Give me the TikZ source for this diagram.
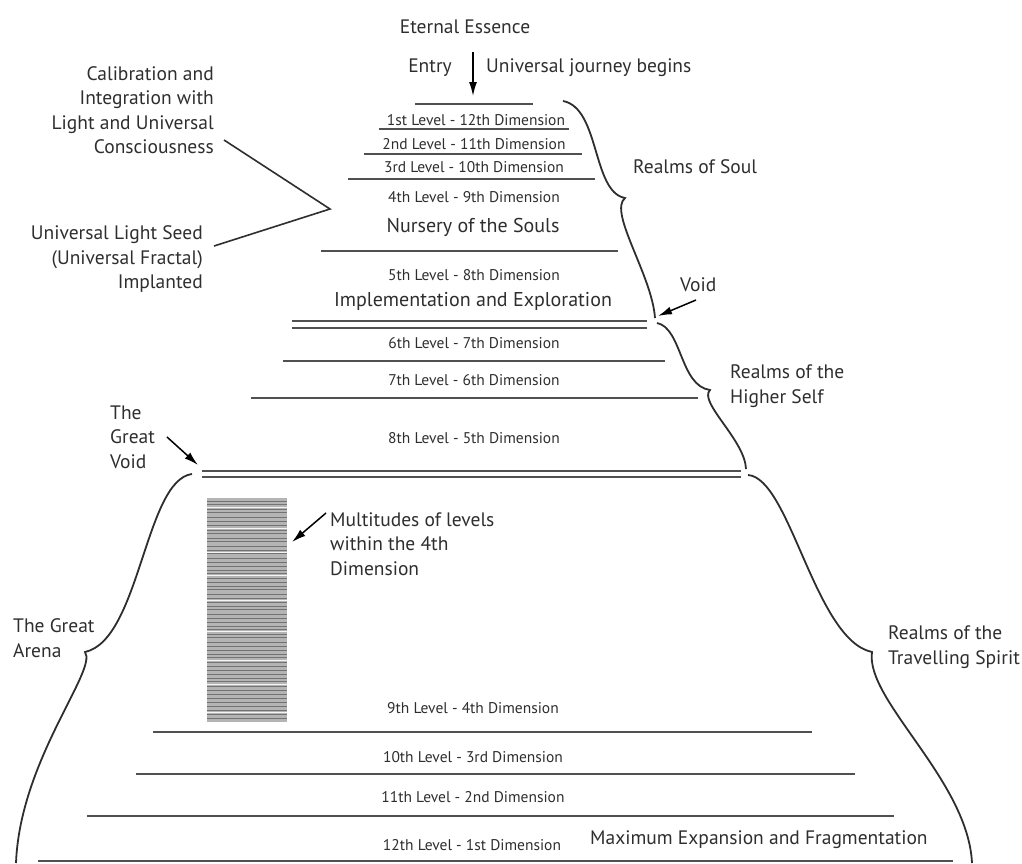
\documentclass[tikz,border=0pt]{standalone}
\usepackage{fontspec}
\setmainfont{PT Sans}
\usepackage{tikz}
\usetikzlibrary{arrows.meta,positioning}
\definecolor{ink}{HTML}{2E2E2E}
\definecolor{rule}{HTML}{505050}
\definecolor{stripe}{HTML}{B4B4B4}

\begin{document}
\begin{tikzpicture}[
    x=1pt, y=-1pt,
    lbl/.style={inner sep=0pt, text=ink, font=\fontsize{19.5}{24.5}\selectfont},
    lvl/.style={inner sep=0pt, text=ink, font=\fontsize{15.5}{18}\selectfont},
    big/.style={inner sep=0pt, text=ink, font=\fontsize{20}{24}\selectfont},
    layer/.style={draw=rule, line width=2.8pt},
    brace/.style={draw=ink, line width=1.8pt},
    arrow/.style={-{Latex[length=14pt,width=8pt]}, line width=1.5pt, color=black},
    lead/.style={draw=ink, line width=1.6pt}
]
\useasboundingbox (0,0) rectangle (1022,863);

% the levels
\foreach \y/\a/\b in {104/415/533, 129/379/569, 154/364/582, 179/348/595,
    251/321/618, 361/283/665, 398/251/698,
    732/153/812, 774/136/855, 816/87/894, 861/38/953}
  \draw[layer] (\a,\y) -- (\b,\y);
% voids
\draw[layer] (292,321) -- (647,321);
\draw[layer] (292,328) -- (647,328);
\draw[layer] (202,471) -- (741,471);
\draw[layer] (202,477) -- (741,477);

% multitudes of levels
\fill[stripe] (207,498) rectangle (287,722);
\foreach \y in {501,504,509,512,517,521,525,530,533,538,541,546,550,553,558,
    562,566,570,573,578,582,586,589,594,598,602,606,609,614,618,622,626,629,
    634,637,642,646,650,654,657,662,666,670,674,678,681,686,690,694,698,702,
    706,710,714,718}
  \draw[rule!80, line width=0.9pt] (207,\y) -- (287,\y);
\foreach \y in {507,528,552,575,600,631,660,684,712}
  \draw[white!85!stripe, line width=0.8pt] (207,\y) -- (287,\y);

% level names
\node[lbl] (eternal) at (465,27) {Eternal Essence};
\node[lbl] (entry) at (430,68) {Entry};
\node[lbl, anchor=west] (journey) at (486,68) {Universal journey begins};
\node[lvl] (l1) at (476,120) {1st Level - 12th Dimension};
\node[lvl] (l2) at (474,144) {2nd Level - 11th Dimension};
\node[lvl] (l3) at (474,167) {3rd Level - 10th Dimension};
\node[lvl] (l4) at (474,197) {4th Level - 9th Dimension};
\node[big] (nursery) at (473,227) {Nursery of the Souls};
\node[lvl] (l5) at (474,275) {5th Level - 8th Dimension};
\node[big] (impl) at (473,301) {Implementation and Exploration};
\node[lvl] (l6) at (474,343) {6th Level - 7th Dimension};
\node[lvl] (l7) at (474,380) {7th Level - 6th Dimension};
\node[lvl] (l8) at (474,438) {8th Level - 5th Dimension};
\node[lvl] (l9) at (473,708) {9th Level - 4th Dimension};
\node[lvl] (l10) at (473,757) {10th Level - 3rd Dimension};
\node[lvl] (l11) at (473,797) {11th Level - 2nd Dimension};
\node[lvl] (l12) at (472,845) {12th Level - 1st Dimension};
\node[lbl, anchor=west] (maxexp) at (590,840) {Maximum Expansion and Fragmentation};

% side labels
\node[lbl, anchor=west] (soul) at (633,167) {Realms of Soul};
\node[lbl, anchor=west] (void) at (680,285) {Void};
\node[lbl, anchor=west, align=left] (higher) at (730,386) {Realms of the\\Higher Self};
\node[lbl, anchor=west, align=left] (travel) at (888,647) {Realms of the\\Travelling Spirit};
\node[lbl, anchor=west, align=left] (arena) at (13,638) {The Great\\Arena};
\node[lbl, anchor=west, align=left] (gvoid) at (110,437) {The\\Great\\Void};
\node[lbl, anchor=west, align=left] (multi) at (330,544) {Multitudes of levels\\within the 4th\\Dimension};
\node[lbl, anchor=east, align=right] (calib) at (214,110) {Calibration and\\Integration with\\Light and Universal\\Consciousness};
\node[lbl, anchor=east, align=right] (seed) at (203,259) {Universal Light Seed\\(Universal Fractal)\\Implanted};

% arrows
\coordinate (entrytop) at (473,52);
\coordinate (entrytip) at (473,96);
\coordinate (voidtail) at (696,300);
\coordinate (voidtip) at (658,316);
\coordinate (gvoidtail) at (167,437);
\coordinate (gvoidtip) at (198,465);
\coordinate (multitail) at (326,513);
\coordinate (multitip) at (292,542);
\draw[arrow] (entrytop) -- (entrytip);
\draw[arrow] (voidtail) -- (voidtip);
\draw[arrow] (gvoidtail) -- (gvoidtip);
\draw[arrow] (multitail) -- (multitip);

% leader lines
\coordinate (calibend) at (224,140);
\coordinate (apex) at (330,209);
\coordinate (seedend) at (214,246);
\draw[lead] (calibend) -- (apex) -- (seedend);

% braces
\draw[brace] (563,101) .. controls (600,108) and (592,192) .. (625,198)
  .. controls (608,212) and (652,275) .. (655,318);
\draw[brace] (657,323) .. controls (682,328) and (680,386) .. (710,390)
  .. controls (698,402) and (745,440) .. (746,469);
\draw[brace] (748,475) .. controls (790,478) and (815,640) .. (872,652)
  .. controls (865,700) and (968,780) .. (972,863);
\draw[brace] (192,474) .. controls (145,480) and (140,640) .. (85,652)
  .. controls (98,670) and (20,760) .. (16,863);
\end{tikzpicture}
\end{document}
